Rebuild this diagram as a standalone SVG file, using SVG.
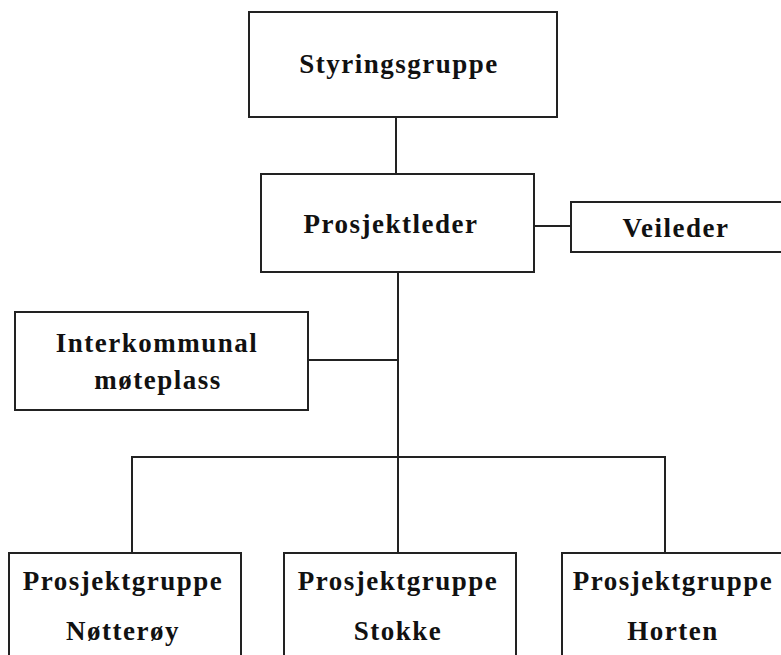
<svg xmlns="http://www.w3.org/2000/svg" width="781" height="655" viewBox="0 0 781 655">
<style>
.box{fill:#fff;stroke:#222;stroke-width:2}
.ln{stroke:#222;stroke-width:2;fill:none}
text{font-family:"Liberation Serif","Times New Roman",serif;font-weight:bold;font-size:27px;letter-spacing:1.5px;fill:#111;text-anchor:middle}
</style>
<rect width="781" height="655" fill="#fff"/>
<g id="connectors">
<line class="ln" x1="396" y1="117" x2="396" y2="174"/>
<line class="ln" x1="534" y1="226" x2="571" y2="226"/>
<line class="ln" x1="398" y1="272" x2="398" y2="553"/>
<line class="ln" x1="308" y1="360" x2="398" y2="360"/>
<polyline class="ln" points="132,553 132,457 665,457 665,553"/>
</g>
<g id="styringsgruppe"><rect class="box" x="249" y="12" width="308" height="105"/><text x="399" y="73">Styringsgruppe</text></g>
<g id="prosjektleder"><rect class="box" x="261" y="174" width="273" height="98"/><text x="391" y="233">Prosjektleder</text></g>
<g id="veileder"><rect class="box" x="571" y="202" width="215" height="50"/><text x="676" y="237">Veileder</text></g>
<g id="interkommunal"><rect class="box" x="15" y="312" width="293" height="98"/><text x="157" y="352">Interkommunal</text><text x="158" y="389">møteplass</text></g>
<g id="notteroy"><rect class="box" x="9" y="553" width="232" height="110"/><text x="123" y="590">Prosjektgruppe</text><text x="123" y="640">Nøtterøy</text></g>
<g id="stokke"><rect class="box" x="284" y="553" width="232" height="110"/><text x="398" y="590">Prosjektgruppe</text><text x="398" y="640">Stokke</text></g>
<g id="horten"><rect class="box" x="562" y="553" width="232" height="110"/><text x="673" y="590">Prosjektgruppe</text><text x="673" y="640">Horten</text></g>
</svg>
